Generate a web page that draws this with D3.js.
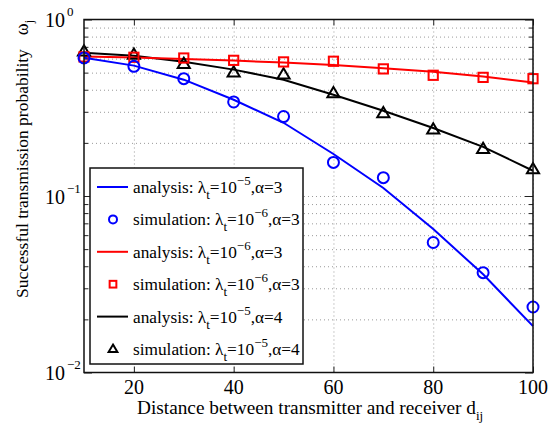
<!DOCTYPE html>
<meta charset="utf-8">
<style>
body { margin: 0; background: #fff; }
svg text { font-family: "Liberation Serif", "Times New Roman", serif; fill: #000; }
.grid line { stroke: #9a9a9a; stroke-width: 1px; stroke-dasharray: 1,3; }
.grid path { display: none; }
.tick-axis path { display: none; }
.tick-axis line { stroke: #222; stroke-width: 1px; }
</style>
<body>
<script src="https://cdn.jsdelivr.net/npm/d3@7/dist/d3.min.js"></script>
<script>

var width = 560,
    height = 428;

// distances d_ij
var distances = [10, 20, 30, 40, 50, 60, 70, 80, 90, 100];

// analysis curves
var anaBlue  = [0.608, 0.548, 0.456, 0.351, 0.260, 0.173, 0.111, 0.065, 0.036, 0.0183];
var anaRed   = [0.618, 0.610, 0.598, 0.585, 0.570, 0.552, 0.530, 0.505, 0.475, 0.440];
var anaBlack = [0.649, 0.624, 0.577, 0.520, 0.456, 0.375, 0.304, 0.243, 0.190, 0.139];

// simulation points
var simBlue  = [0.606, 0.543, 0.462, 0.341, 0.282, 0.155, 0.127, 0.0545, 0.0368, 0.0235];
var simRed   = [0.614, 0.611, 0.605, 0.587, 0.575, 0.580, 0.525, 0.483, 0.470, 0.462];
var simBlack = [0.660, 0.633, 0.562, 0.502, 0.489, 0.383, 0.295, 0.239, 0.185, 0.142];

var xTicks = [20, 40, 60, 80, 100];
var yMajor = [1e-2, 1e-1, 1];
var yExp = ["\u22122", "\u22121", "0"];

var legendRows = [
  {kind: "line",   color: "#0000ff", label: "analysis: ",   lam: "5", a: "3"},
  {kind: "circle", color: "#0000ff", label: "simulation: ", lam: "6", a: "3"},
  {kind: "line",   color: "#ff0000", label: "analysis: ",   lam: "6", a: "3"},
  {kind: "square", color: "#ff0000", label: "simulation: ", lam: "6", a: "3"},
  {kind: "line",   color: "#000000", label: "analysis: ",   lam: "5", a: "4"},
  {kind: "tri",    color: "#000000", label: "simulation: ", lam: "5", a: "4"}
];

var m = {left: 84, top: 19.5, right: 533, bottom: 372.5};

var x = d3.scaleLinear().domain([10, 100]).range([m.left, m.right]);
var y = d3.scaleLog().domain([0.01, 1]).range([m.bottom, m.top]);

var yMinor = [];
[0.01, 0.1].forEach(function(d) {
  for (var k = 2; k <= 9; k++) yMinor.push(d * k);
});

var svg = d3.select("body").append("svg")
    .attr("width", width)
    .attr("height", height);

// grid
svg.append("g")
    .attr("class", "grid")
    .attr("transform", "translate(0," + m.bottom + ")")
    .call(d3.axisBottom(x).tickValues(xTicks).tickSize(-(m.bottom - m.top)).tickFormat(""));

svg.append("g")
    .attr("class", "grid")
    .attr("transform", "translate(" + m.left + ",0)")
    .call(d3.axisLeft(y).tickValues(yMinor.concat([0.1])).tickSize(-(m.right - m.left)).tickFormat(""));

// ticks (inside, all four sides)
function tickAxis(axis, tx, ty) {
  svg.append("g")
      .attr("class", "tick-axis")
      .attr("transform", "translate(" + tx + "," + ty + ")")
      .call(axis);
}
tickAxis(d3.axisBottom(x).tickValues(xTicks).tickSize(-6).tickFormat(""), 0, m.bottom);
tickAxis(d3.axisTop(x).tickValues(xTicks).tickSize(-6).tickFormat(""), 0, m.top);
tickAxis(d3.axisLeft(y).tickValues(yMajor).tickSize(-8).tickFormat(""), m.left, 0);
tickAxis(d3.axisLeft(y).tickValues(yMinor).tickSize(-4).tickFormat(""), m.left, 0);
tickAxis(d3.axisRight(y).tickValues(yMajor).tickSize(-8).tickFormat(""), m.right, 0);
tickAxis(d3.axisRight(y).tickValues(yMinor).tickSize(-4).tickFormat(""), m.right, 0);

// lines
var line = d3.line()
    .x(function(d) { return x(d[0]); })
    .y(function(d) { return y(d[1]); });

function zip(a) { return distances.map(function(d, i) { return [d, a[i]]; }); }

var series = [
  {ana: anaBlack, sim: simBlack, color: "#000000", kind: "tri"},
  {ana: anaRed,   sim: simRed,   color: "#ff0000", kind: "square"},
  {ana: anaBlue,  sim: simBlue,  color: "#0000ff", kind: "circle"}
];

series.forEach(function(s) {
  svg.append("path")
      .datum(zip(s.ana))
      .attr("fill", "none")
      .attr("stroke", s.color)
      .attr("stroke-width", 2)
      .attr("d", line);
});

function marker(g, kind, color, cx, cy, size) {
  if (kind === "circle") {
    g.append("circle").attr("cx", cx).attr("cy", cy).attr("r", size * 0.5)
        .attr("fill", "none").attr("stroke", color).attr("stroke-width", 2);
  } else if (kind === "square") {
    var h = size * 0.42;
    g.append("rect").attr("x", cx - h).attr("y", cy - h).attr("width", 2 * h).attr("height", 2 * h)
        .attr("fill", "none").attr("stroke", color).attr("stroke-width", 2);
  } else {
    var r = size * 0.55;
    g.append("path")
        .attr("d", "M" + cx + "," + (cy - r) + "L" + (cx + r) + "," + (cy + r * 0.7) + "L" + (cx - r) + "," + (cy + r * 0.7) + "Z")
        .attr("fill", "none").attr("stroke", color).attr("stroke-width", 2);
  }
}

series.forEach(function(s) {
  var g = svg.append("g");
  zip(s.sim).forEach(function(d) {
    marker(g, s.kind, s.color, x(d[0]), y(d[1]), 11);
  });
});

// frame
svg.append("rect")
    .attr("x", m.left).attr("y", m.top)
    .attr("width", m.right - m.left).attr("height", m.bottom - m.top)
    .attr("fill", "none").attr("stroke", "#111").attr("stroke-width", 1.5);

// tick labels
svg.selectAll(".xlab")
    .data(xTicks)
  .enter().append("text")
    .attr("class", "xlab")
    .attr("x", function(d) { return x(d); })
    .attr("y", 394)
    .attr("text-anchor", "middle")
    .style("font-size", "20px")
    .text(function(d) { return d; });

var ylab = svg.selectAll(".ylab")
    .data(yMajor)
  .enter().append("text")
    .attr("class", "ylab")
    .attr("x", 45)
    .attr("y", function(d) { return y(d) + 7.5; })
    .style("font-size", "20px");
ylab.append("tspan").text("10");
ylab.append("tspan")
    .attr("dx", 2)
    .attr("dy", -11)
    .style("font-size", "13px")
    .text(function(d, i) { return yExp[i]; });

// axis titles
var xt = svg.append("text")
    .attr("x", 137)
    .attr("y", 414)
    .style("font-size", "19.3px");
xt.append("tspan").text("Distance between transmitter and receiver d");
xt.append("tspan").attr("dy", 6).style("font-size", "13px").text("ij");

var yt = svg.append("text")
    .attr("transform", "translate(28,298) rotate(-90)")
    .style("font-size", "17.5px");
yt.append("tspan").text("Successful transmission probability");
yt.append("tspan").attr("dx", 14).style("font-size", "18px").text("\u03c9");
yt.append("tspan").attr("dy", 5).style("font-size", "12px").text("j");

// legend
var lg = svg.append("g");
lg.append("rect")
    .attr("x", 90).attr("y", 168)
    .attr("width", 213).attr("height", 196)
    .attr("fill", "#fff").attr("stroke", "#111").attr("stroke-width", 1.5);

legendRows.forEach(function(r, i) {
  var cy = 187 + i * 32.4;
  if (r.kind === "line") {
    lg.append("line").attr("x1", 97).attr("x2", 128).attr("y1", cy).attr("y2", cy)
        .attr("stroke", r.color).attr("stroke-width", 2);
  } else {
    marker(lg, r.kind, r.color, 113, cy, 8);
  }
  var t = lg.append("text")
      .attr("x", 133)
      .attr("y", cy + 6)
      .style("font-size", "17.3px");
  t.append("tspan").text(r.label + "\u03bb");
  t.append("tspan").attr("dy", 6).style("font-size", "13px").text("t");
  t.append("tspan").attr("dy", -6).text("=10");
  t.append("tspan").attr("dy", -8).style("font-size", "13px").text("\u2212" + r.lam);
  t.append("tspan").attr("dy", 8).text(",\u03b1=" + r.a);
});

</script>
</body>
